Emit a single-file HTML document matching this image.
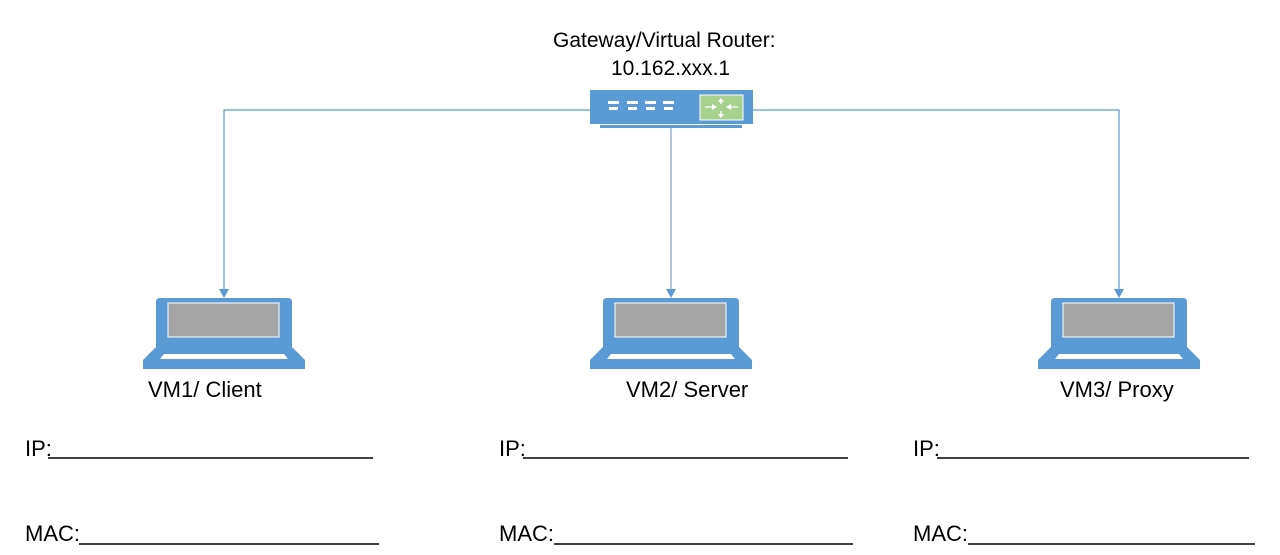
<!DOCTYPE html>
<html><head><style>
body{margin:0;width:1280px;height:555px;background:#fff;overflow:hidden;font-family:"Liberation Sans",sans-serif;}
svg{position:absolute;left:0;top:0}
.t{position:absolute;font-size:22px;line-height:26px;color:#000;white-space:nowrap}
</style></head><body>
<svg width="1280" height="555">
<defs>
<g id="lap">
<path d="M-68,348 V302 Q-68,298 -64,298 H64 Q68,298 68,302 V348 Z" fill="#5b9bd5"/>
<rect x="-56" y="303" width="111" height="34" fill="#a5a5a5" stroke="#fff" stroke-width="1"/>
<path d="M-68,347 H68 L81,360 V369 H-81 V360 Z" fill="#5b9bd5"/>
<path d="M-60,354 H60 L64,359 H-64 Z" fill="#fff"/>
</g>
</defs>
<g stroke="#5b9bd5" stroke-width="1.2" fill="none">
<path d="M590,110 H224 V290"/>
<path d="M753,110 H1119 V290"/>
<path d="M671,128 V290" stroke="#7f9fbf"/>
</g>
<g fill="#5b9bd5">
<path d="M219,289 H229 L224,298 Z"/>
<path d="M666,289 H676 L671,298 Z"/>
<path d="M1114,289 H1124 L1119,298 Z"/>
</g>
<rect x="590" y="90" width="163" height="34" fill="#5b9bd5"/>
<rect x="600" y="125" width="142" height="3" fill="#5b9bd5"/>
<g fill="#fff">
<rect x="608" y="101" width="11" height="3"/><rect x="609" y="107" width="9" height="3"/>
<rect x="627" y="101" width="11" height="3"/><rect x="628" y="107" width="9" height="3"/>
<rect x="645" y="101" width="11" height="3"/><rect x="646" y="107" width="9" height="3"/>
<rect x="663" y="101" width="11" height="3"/><rect x="664" y="107" width="9" height="3"/>
</g>
<rect x="700" y="95" width="43" height="25" fill="#a9d18e" stroke="#fff"/>
<g stroke="#fff" stroke-width="1.3" fill="none"><path d="M705,107 H714 M738,107 H729 M721,99 V104 M721,111 V117"/></g>
<g fill="#fff"><path d="M717,107 L712,104 V110 Z M726,107 L731,104 V110 Z M721,98 L718,102 H724 Z M721,118 L718,114 H724 Z"/></g>
<use href="#lap" x="224"/>
<use href="#lap" x="671"/>
<use href="#lap" x="1119"/>
<g stroke="#000" stroke-width="1.5">
<line x1="48" y1="458" x2="373" y2="458"/><line x1="523" y1="458" x2="848" y2="458"/><line x1="937" y1="458" x2="1249" y2="458"/>
<line x1="79" y1="544" x2="379" y2="544"/><line x1="554" y1="544" x2="853" y2="544"/><line x1="968" y1="544" x2="1255" y2="544"/>
</g>
</svg>
<div class="t" style="left:553px;top:28px;font-size:21px">Gateway/Virtual Router:</div>
<div class="t" style="left:611px;top:56px;font-size:21px">10.162.xxx.1</div>
<div class="t" style="left:148px;top:377px">VM1/ Client</div>
<div class="t" style="left:626px;top:377px">VM2/ Server</div>
<div class="t" style="left:1060px;top:377px">VM3/ Proxy</div>
<div class="t" style="left:25px;top:436px">IP:</div>
<div class="t" style="left:499px;top:436px">IP:</div>
<div class="t" style="left:913px;top:436px">IP:</div>
<div class="t" style="left:25px;top:521px">MAC:</div>
<div class="t" style="left:499px;top:521px">MAC:</div>
<div class="t" style="left:913px;top:521px">MAC:</div>
</body></html>
